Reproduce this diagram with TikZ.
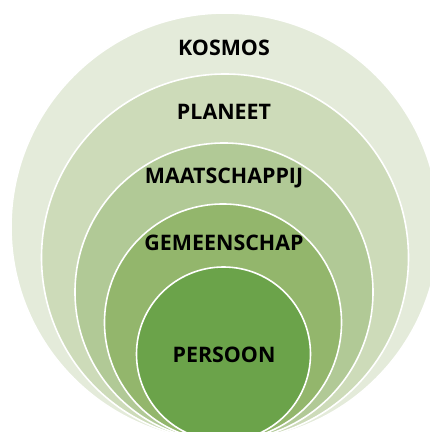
\documentclass[tikz,border=0pt]{standalone}
\usepackage{fontspec}
\setmainfont{Open Sans}
\definecolor{kosmosgreen}{HTML}{E4EBDA}
\definecolor{planeetgreen}{HTML}{CDDBB9}
\definecolor{maatgreen}{HTML}{B1C996}
\definecolor{gemeengreen}{HTML}{93B66C}
\definecolor{persoongreen}{HTML}{6BA34A}
\begin{document}
\begin{tikzpicture}
[x=1pt, y=1pt, font=\bfseries\fontsize{21.4}{24}\selectfont,
ring/.style={circle, draw=white, line width=1.6pt, inner sep=0pt},
lab/.style={anchor=base, inner sep=0pt, text=black}]

\useasboundingbox (0,0) rectangle (430,432);
\clip (0,0) rectangle (430,432);

\node[ring, fill=kosmosgreen, minimum size=428pt] (kosmos) at (225,205) {};
\node[ring, fill=planeetgreen, minimum size=367pt] (planeet) at (225,174.5) {};
\node[ring, fill=maatgreen, minimum size=298pt] (maat) at (224,140) {};
\node[ring, fill=gemeengreen, minimum size=237pt] (gemeen) at (223,109.5) {};
\node[ring, fill=persoongreen, minimum size=174pt] (persoon) at (223.5,78) {};

\node[lab] (kosmoslab) at (224,376) {KOSMOS};
\node[lab] (planeetlab) at (224,312) {PLANEET};
\node[lab] (maatlab) at (224,248.5) {MAATSCHAPPIJ};
\node[lab] (gemeenlab) at (224,181.5) {GEMEENSCHAP};
\node[lab] (persoonlab) at (224,69) {PERSOON};
\end{tikzpicture}
\end{document}
